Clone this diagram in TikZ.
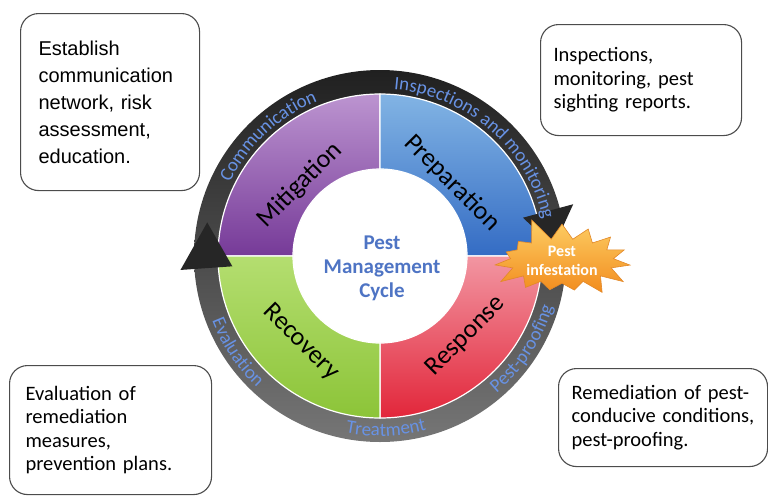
\documentclass[tikz,border=0pt]{standalone}
\usepackage{fontspec}
\setmainfont{Carlito}
\newfontfamily\arialfont{Liberation Sans}
\usetikzlibrary{shapes.symbols, decorations.text, positioning}

\definecolor{ringblue}{RGB}{104,146,228}
\definecolor{titleblue}{RGB}{78,116,196}
\definecolor{ringtop}{RGB}{32,32,32}
\definecolor{ringbottom}{RGB}{118,118,118}
\definecolor{purpletop}{RGB}{188,148,208}
\definecolor{purplebot}{RGB}{118,58,152}
\definecolor{bluetop}{RGB}{130,180,228}
\definecolor{bluebot}{RGB}{52,108,196}
\definecolor{redtop}{RGB}{242,150,162}
\definecolor{redbot}{RGB}{226,38,58}
\definecolor{greentop}{RGB}{180,222,112}
\definecolor{greenbot}{RGB}{140,196,56}
\definecolor{burstlight}{RGB}{253,206,100}
\definecolor{burstdark}{RGB}{242,140,30}
\definecolor{burstedge}{RGB}{226,136,40}

\newcommand\ringfont{\fontsize{19}{20}\selectfont}
\newcommand\boxfont{\fontsize{20.5}{23.5}\selectfont}

\begin{document}
\begin{tikzpicture}[x=1pt, y=1pt,
		notebox/.style={draw=black!70, line width=1.1pt, rounded corners=18pt, fill=white, anchor=north west, align=left, inner ysep=0pt, font=\boxfont},
		quadlabel/.style={font=\fontsize{26}{28}\selectfont, text=black},
		titletext/.style={align=center, text=titleblue, font=\bfseries\fontsize{21}{24}\selectfont},
		burst/.style={starburst, starburst points=15, starburst point height=24pt, random starburst=5, top color=burstlight, bottom color=burstdark, draw=burstedge, line width=0.6pt, text=white, align=center, font=\bfseries\fontsize{16}{19}\selectfont, inner sep=1pt},
		ringtext/.style={decorate, decoration={text along path, text align=center, text color=ringblue}},
		headfill/.style={fill=black!85}
		]
		
		\useasboundingbox (0,0) rectangle (768,-496);
		
		% ----- Cycle -----
		\begin{scope}[shift={(380,-256)}]
			% outer ring
			\shade[top color=ringtop, bottom color=ringbottom, even odd rule] (0,0) circle (186) (0,0) circle (162);
			
			% quadrants
			\shade[top color=purpletop, bottom color=purplebot, draw=white, line width=1.2pt] (90:87) -- (90:162) arc[start angle=90, end angle=180, radius=162] -- (180:87) arc[start angle=180, end angle=90, radius=87] -- cycle;
			\shade[top color=bluetop, bottom color=bluebot, draw=white, line width=1.2pt] (0:87) -- (0:162) arc[start angle=0, end angle=90, radius=162] -- (90:87) arc[start angle=90, end angle=0, radius=87] -- cycle;
			\shade[top color=redtop, bottom color=redbot, draw=white, line width=1.2pt] (270:87) -- (270:162) arc[start angle=270, end angle=360, radius=162] -- (0:87) arc[start angle=0, end angle=-90, radius=87] -- cycle;
			\shade[top color=greentop, bottom color=greenbot, draw=white, line width=1.2pt] (180:87) -- (180:162) arc[start angle=180, end angle=270, radius=162] -- (270:87) arc[start angle=270, end angle=180, radius=87] -- cycle;
			
			% arrow heads
			\fill[headfill] (184:148) -- (169:176) -- (184:200) -- cycle;
			\fill[headfill] (15:148) -- (3:174) -- (15:200) -- cycle;
			
			% ring labels
			\path[ringtext, decoration={text={|\ringfont|Communication}}] (165:167) arc[start angle=165, end angle=101, radius=167];
			\path[ringtext, decoration={text={|\ringfont|Inspections and monitoring}}] (93:167) arc[start angle=93, end angle=5, radius=167];
			\path[ringtext, decoration={text={|\ringfont|Evaluation}}] (196:180) arc[start angle=196, end angle=232, radius=180];
			\path[ringtext, decoration={text={|\ringfont|Treatment}}] (255:180) arc[start angle=255, end angle=289, radius=180];
			\path[ringtext, decoration={text={|\ringfont|Pest-proofing}}] (306:180) arc[start angle=306, end angle=348, radius=180];
		\end{scope}
		
		% Quadrant labels
		\node[quadlabel, rotate=45] (mitigation) at (300,-185) {Mitigation};
		\node[quadlabel, rotate=-45] (preparation) at (452,-183) {Preparation};
		\node[quadlabel, rotate=-45] (recovery) at (301,-342) {Recovery};
		\node[quadlabel, rotate=45] (response) at (466,-336) {Response};
		
		% Centre
		\node[titletext] (title) at (382,-268) {Pest\\Management\\Cycle};
		
		% Pest infestation
		\node[burst] (infest) at (562,-261) {Pest\\infestation};
		
		% ----- Notes -----
		\node[notebox, font=\arialfont\fontsize{20}{27}\selectfont, text width=143pt, inner xsep=18pt, minimum height=177pt] (mitnote) at (20,-13) {Establish\\communication\\network, risk\\assessment,\\education.};
		\node[notebox, text width=175pt, inner xsep=13pt, minimum height=111pt] (prepnote) at (540,-24) {Inspections,\\monitoring, pest\\sighting reports.};
		\node[notebox, text width=170pt, inner xsep=16pt, minimum height=129pt] (recnote) at (9,-365) {Evaluation of\\remediation\\measures,\\prevention plans.};
		\node[notebox, text width=183pt, inner xsep=13pt, minimum height=98pt] (respnote) at (558,-368) {Remediation of pest-\\conducive conditions,\\pest-proofing.};
		
	\end{tikzpicture}
\end{document}
